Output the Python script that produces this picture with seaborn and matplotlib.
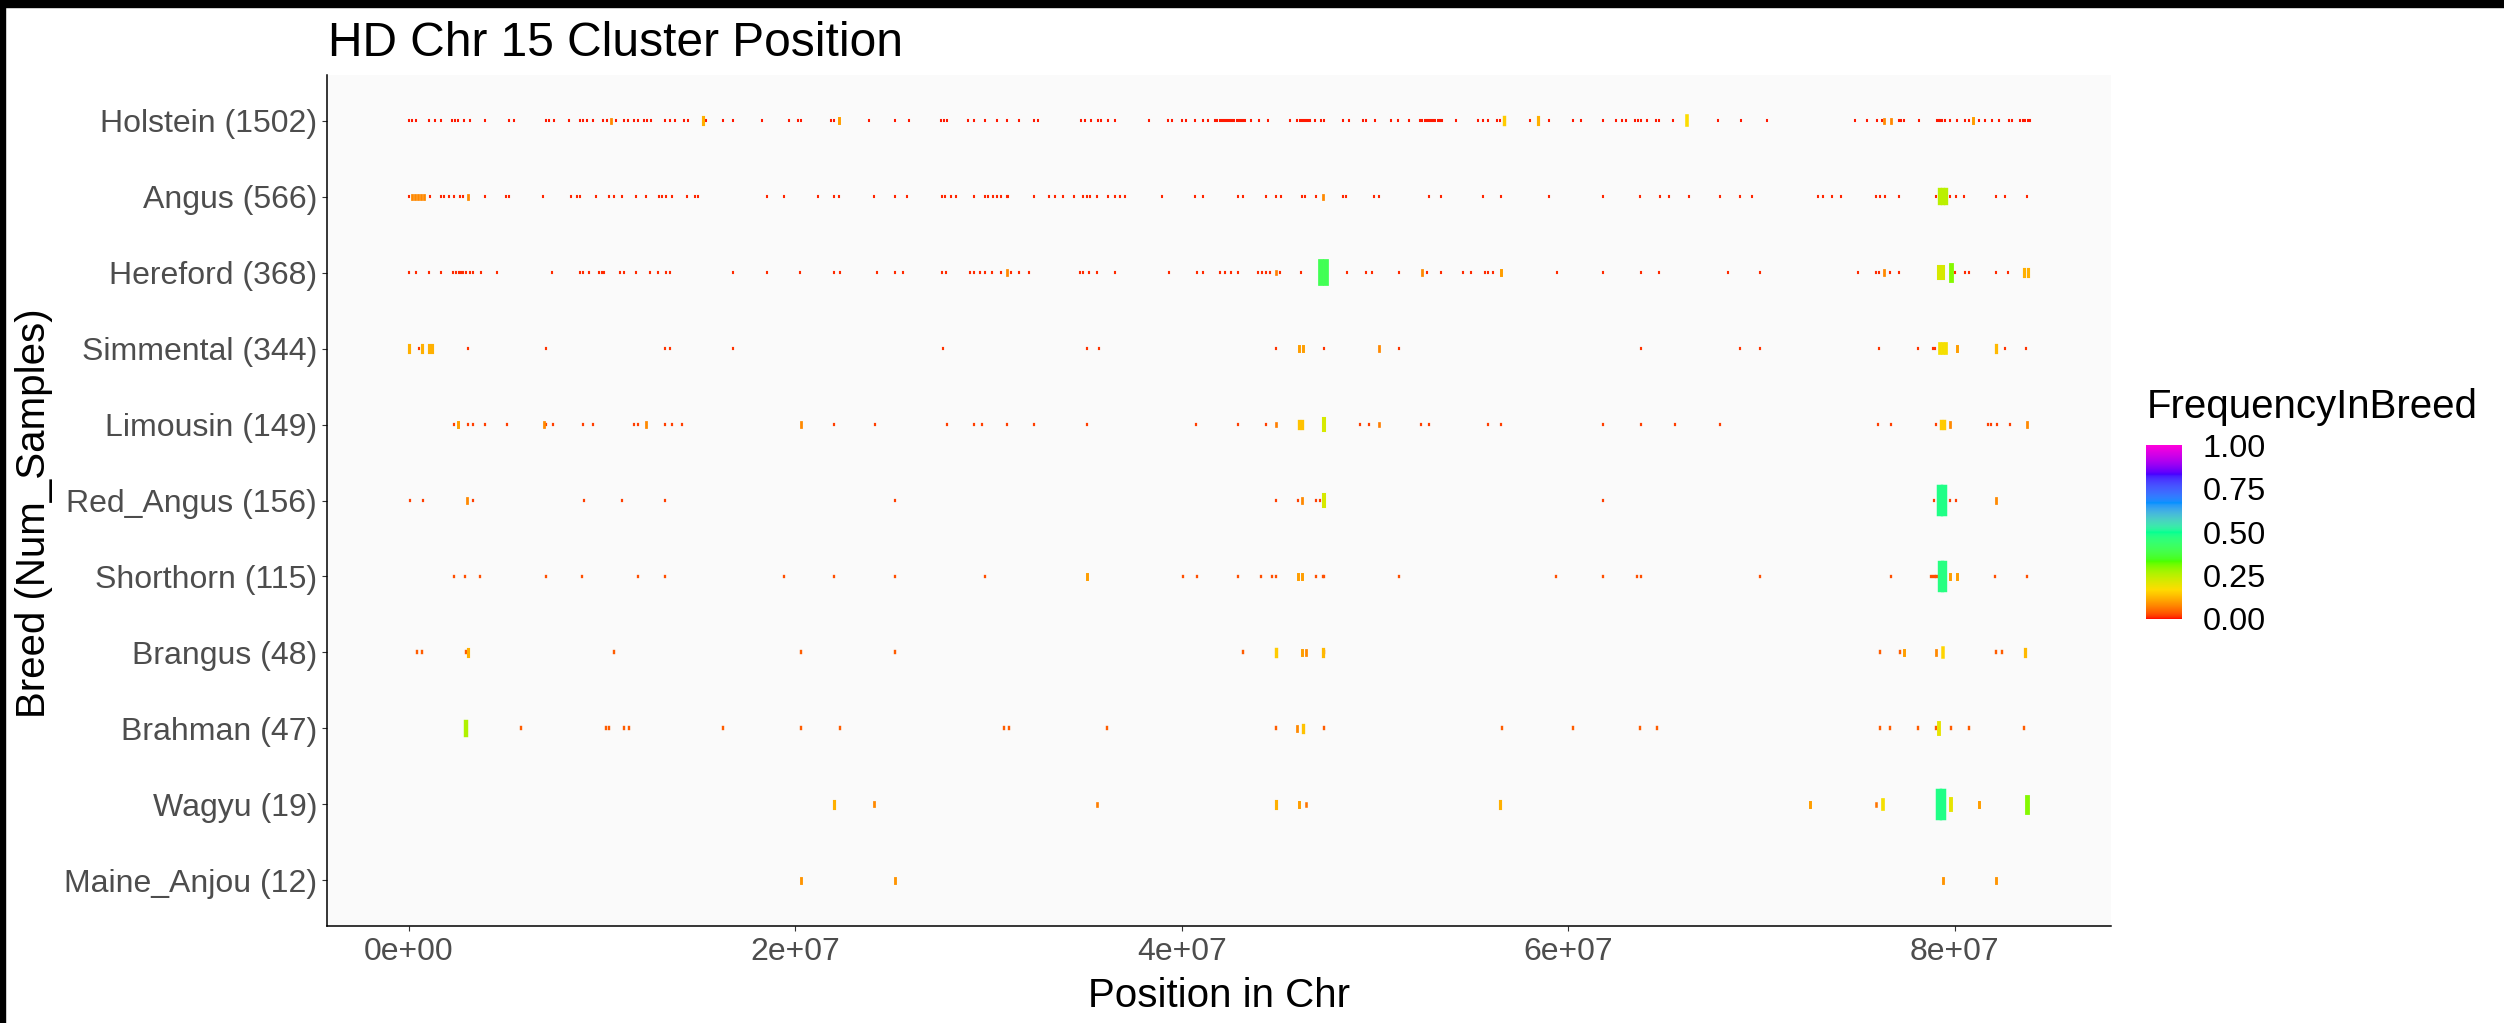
import numpy as np
import pandas as pd
import matplotlib
matplotlib.use("Agg")
import matplotlib.pyplot as plt
from matplotlib.colors import ListedColormap, Normalize, to_rgb
from matplotlib.cm import ScalarMappable
from matplotlib.patches import Rectangle
import seaborn as sns

# ---------------- data ----------------
title = "HD Chr 15 Cluster Position"
x_title = "Position in Chr"
y_title = "Breed (Num_Samples)"
legend_title = "FrequencyInBreed"

breeds = ["Holstein (1502)", "Angus (566)", "Hereford (368)", "Simmental (344)",
          "Limousin (149)", "Red_Angus (156)", "Shorthorn (115)", "Brangus (48)",
          "Brahman (47)", "Wagyu (19)", "Maine_Anjou (12)"]

# frequency of the many small (rare) clusters in each breed
base_freq = [0.005, 0.008, 0.01, 0.015, 0.02, 0.02, 0.03, 0.04, 0.04, 0.06, 0.09]

# positions in Mb
holstein_low = [0.02, 0.20, 0.38, 1.06, 1.38, 1.70, 2.24, 2.39, 2.56, 2.88, 3.16, 3.95, 5.18, 5.47, 7.11, 7.28,
                7.54, 8.32, 8.89, 9.04, 9.21, 9.54, 10.07, 10.28, 10.71, 11.15, 11.35, 11.68, 11.89, 12.17, 12.35,
                12.54, 13.28, 13.54, 13.78, 14.27, 14.44, 15.39, 16.29, 16.78, 18.29, 19.66, 20.16, 20.32, 21.86,
                22.01, 23.80, 25.15, 25.88, 27.55, 27.70, 27.87, 28.95, 29.26, 29.80, 30.45, 30.98, 31.58, 32.37,
                32.55, 34.80, 35.01, 35.33, 35.65, 35.80, 36.19, 36.57, 38.33, 39.30, 39.51, 40.01, 40.22, 40.70,
                41.09, 41.34, 41.72, 41.85, 41.98, 42.10, 42.20, 42.30, 42.41, 42.52, 42.62, 42.73, 42.84, 42.95,
                43.05, 43.16, 43.27, 43.59, 44.01, 44.45, 45.62, 45.99, 46.10, 46.20, 46.31, 46.42, 46.52, 46.63,
                46.91, 47.23, 47.38, 48.36, 48.67, 49.38, 49.56, 49.98, 50.82, 51.21, 51.74, 52.34, 52.45, 52.60,
                52.71, 52.82, 52.92, 53.02, 53.13, 53.24, 53.35, 53.46, 54.20, 55.35, 55.61, 55.85, 56.31, 56.48,
                58.00, 58.99, 60.25, 60.68, 61.82, 62.47, 62.79, 63.01, 63.47, 63.60, 63.75, 64.08, 64.55, 64.71,
                65.42, 67.75, 68.92, 70.26, 74.84, 75.45, 75.97, 76.23, 77.09, 77.22, 77.35, 78.17, 79.08, 79.18,
                79.25, 79.35, 79.51, 79.76, 80.11, 80.54, 80.72, 81.23, 81.54, 81.91, 82.26, 82.78, 82.95, 83.39,
                83.52, 83.65, 83.78, 83.90]
holstein_hi_pos = [10.45, 15.24, 22.25, 56.65, 58.41, 66.16, 76.35, 76.70, 80.94]
holstein_hi_freq = [0.08, 0.12, 0.10, 0.15, 0.12, 0.17, 0.08, 0.08, 0.10]

angus_low = [0.00, 1.10, 1.66, 1.81, 2.09, 2.34, 2.67, 2.82, 3.95, 5.03, 5.18, 6.98, 8.39, 8.74, 8.89, 9.71, 10.39,
             10.61, 11.06, 11.78, 12.26, 12.96, 13.11, 13.33, 13.65, 14.42, 14.83, 15.00, 18.55, 19.44, 21.20,
             22.01, 22.25, 24.10, 25.15, 25.79, 27.62, 27.76, 28.04, 28.30, 29.26, 29.80, 29.97, 30.23, 30.45,
             30.67, 30.94, 31.02, 32.37, 33.13, 33.44, 33.87, 34.43, 34.91, 35.11, 35.26, 35.61, 36.19, 36.57,
             36.83, 37.09, 38.98, 40.70, 41.12, 42.89, 43.16, 44.38, 44.88, 45.12, 46.23, 46.40, 46.97, 48.33,
             48.49, 49.96, 50.19, 52.78, 53.41, 55.61, 56.52, 58.99, 61.82, 63.73, 64.76, 65.19, 66.24, 67.84,
             68.88, 69.52, 72.93, 73.16, 73.66, 74.09, 75.92, 76.13, 76.39, 77.12, 79.02, 79.76, 80.07, 80.49,
             82.15, 82.57, 83.73]
angus_hi_pos = [0.20, 0.35, 0.50, 0.65, 0.80, 3.05, 47.30, 79.25, 79.40, 79.52]
angus_hi_freq = [0.08, 0.08, 0.08, 0.08, 0.08, 0.08, 0.08, 0.25, 0.25, 0.25]

hereford_low = [0.02, 0.38, 1.06, 1.70, 2.31, 2.45, 2.59, 2.73, 2.84, 2.95, 3.16, 3.31, 3.75, 4.60, 7.43, 8.89,
                9.04, 9.36, 9.85, 10.00, 10.11, 10.93, 11.15, 11.78, 12.47, 12.92, 13.33, 13.54, 16.76, 18.55,
                20.25, 22.01, 22.34, 24.23, 25.15, 25.58, 27.62, 27.83, 29.06, 29.26, 29.54, 29.80, 30.19, 30.67,
                31.19, 31.58, 32.10, 34.73, 34.91, 35.22, 35.61, 36.57, 39.34, 40.81, 41.09, 41.98, 42.24, 42.57,
                42.89, 43.97, 44.17, 44.38, 44.55, 45.08, 46.16, 48.53, 49.56, 49.82, 51.25, 52.67, 53.41, 54.53,
                54.96, 55.67, 55.83, 56.09, 59.40, 61.82, 63.75, 64.71, 68.24, 69.93, 75.01, 75.92, 76.09, 76.66,
                77.12, 80.02, 80.51, 80.75, 82.11, 82.76]
hereford_hi_pos = [30.94, 44.88, 47.23, 47.45, 52.45, 56.52, 76.34, 79.20, 79.40, 79.78, 83.59, 83.80]
hereford_hi_freq = [0.08, 0.07, 0.40, 0.40, 0.08, 0.10, 0.08, 0.22, 0.22, 0.30, 0.12, 0.12]

simmental_low = [0.53, 3.10, 7.11, 13.28, 13.54, 16.76, 27.66, 35.11, 35.72, 44.88, 47.34, 51.25, 63.75, 68.88,
                 69.93, 76.07, 78.07, 78.89, 79.00, 82.57, 83.68]
simmental_hi_pos = [0.03, 0.68, 1.06, 1.20, 46.06, 46.27, 50.19, 79.22, 79.39, 79.55, 80.09, 82.15]
simmental_hi_freq = [0.12, 0.12, 0.12, 0.12, 0.10, 0.10, 0.08, 0.18, 0.18, 0.18, 0.10, 0.13]

limousin_low = [2.34, 3.10, 3.31, 3.95, 5.10, 7.11, 7.49, 9.00, 9.54, 11.68, 11.85, 13.28, 13.61, 14.15, 22.01,
                24.12, 27.87, 29.26, 29.69, 30.94, 32.37, 35.11, 40.76, 42.89, 44.38, 49.23, 49.71, 52.39, 52.78,
                55.85, 56.52, 61.82, 63.75, 65.51, 67.84, 76.04, 76.71, 79.02, 81.70, 81.87, 82.18, 82.83]
limousin_hi_pos = [2.56, 7.02, 12.26, 20.30, 44.88, 46.06, 46.23, 47.34, 50.19, 79.28, 79.46, 79.76, 83.73]
limousin_hi_freq = [0.10, 0.08, 0.08, 0.08, 0.07, 0.14, 0.14, 0.22, 0.07, 0.15, 0.15, 0.08, 0.08]

red_angus_low = [0.10, 0.74, 3.31, 9.10, 11.06, 13.28, 25.15, 44.88, 46.01, 46.97, 47.13, 61.82, 78.90, 79.76,
                 80.07]
red_angus_hi_pos = [3.03, 46.23, 47.34, 79.25, 79.42, 82.11]
red_angus_hi_freq = [0.08, 0.08, 0.22, 0.48, 0.48, 0.08]

shorthorn_low = [2.34, 2.92, 3.72, 7.11, 8.95, 11.85, 13.28, 19.44, 22.01, 25.15, 29.82, 40.05, 40.78, 42.89,
                 44.08, 44.66, 44.88, 46.97, 47.30, 47.38, 51.25, 59.38, 61.82, 63.58, 63.75, 69.93, 76.71, 78.78,
                 78.87, 78.96, 79.05, 79.14, 82.08, 83.73]
shorthorn_hi_pos = [35.11, 46.01, 46.25, 79.30, 79.45, 79.76, 80.09]
shorthorn_hi_freq = [0.10, 0.10, 0.10, 0.47, 0.47, 0.10, 0.10]

brangus_low = [0.46, 0.68, 2.99, 10.65, 20.32, 25.15, 43.18, 47.38, 76.14, 77.18, 82.11, 82.43]
brangus_hi_pos = [3.05, 44.88, 46.21, 46.42, 47.30, 77.36, 79.04, 79.37, 83.64]
brangus_hi_freq = [0.12, 0.15, 0.10, 0.08, 0.13, 0.10, 0.08, 0.16, 0.13]

brahman_low = [5.80, 10.22, 10.39, 11.15, 11.42, 16.29, 20.32, 22.34, 30.83, 31.04, 36.11, 44.90, 47.34, 56.57,
               60.25, 63.73, 64.61, 76.14, 76.64, 78.09, 79.04, 79.78, 80.75, 83.56]
brahman_hi_pos = [2.99, 45.99, 46.27, 79.18]
brahman_hi_freq = [0.26, 0.08, 0.14, 0.20]

wagyu_low = [46.42, 75.90]
wagyu_hi_pos = [22.01, 24.10, 35.61, 44.88, 46.06, 56.48, 72.52, 76.30, 79.19, 79.39, 79.78, 81.23, 83.73]
wagyu_hi_freq = [0.12, 0.08, 0.07, 0.12, 0.10, 0.12, 0.10, 0.18, 0.48, 0.48, 0.20, 0.10, 0.30]

maine_anjou_low = [20.32, 25.15, 79.41, 82.11]
maine_anjou_hi_pos = []
maine_anjou_hi_freq = []

low_lists = [holstein_low, angus_low, hereford_low, simmental_low, limousin_low, red_angus_low,
             shorthorn_low, brangus_low, brahman_low, wagyu_low, maine_anjou_low]
hi_pos_lists = [holstein_hi_pos, angus_hi_pos, hereford_hi_pos, simmental_hi_pos, limousin_hi_pos,
                red_angus_hi_pos, shorthorn_hi_pos, brangus_hi_pos, brahman_hi_pos, wagyu_hi_pos,
                maine_anjou_hi_pos]
hi_freq_lists = [holstein_hi_freq, angus_hi_freq, hereford_hi_freq, simmental_hi_freq, limousin_hi_freq,
                 red_angus_hi_freq, shorthorn_hi_freq, brangus_hi_freq, brahman_hi_freq, wagyu_hi_freq,
                 maine_anjou_hi_freq]

x_tick_values = [0, 2e7, 4e7, 6e7, 8e7]
x_tick_labels = ["0e+00", "2e+07", "4e+07", "6e+07", "8e+07"]
cbar_ticks = [0.0, 0.25, 0.5, 0.75, 1.0]
cbar_labels = ["0.00", "0.25", "0.50", "0.75", "1.00"]

# R rainbow(7) colours used by the gradient
rainbow7 = ["#FF0000", "#FFDB00", "#49FF00", "#00FF92", "#0092FF", "#4900FF", "#FF00DB"]


# ---------------- Lab-interpolated gradient (as ggplot's gradientn) ----------------
_WHITE = np.array([0.95047, 1.0, 1.08883])
_M = np.array([[0.4124564, 0.3575761, 0.1804375],
               [0.2126729, 0.7151522, 0.0721750],
               [0.0193339, 0.1191920, 0.9503041]])


def srgb_to_lab(rgb):
    rgb = np.asarray(rgb, dtype=float)
    lin = np.where(rgb <= 0.04045, rgb / 12.92, ((rgb + 0.055) / 1.055) ** 2.4)
    xyz = lin @ _M.T / _WHITE
    f = np.where(xyz > 0.008856, np.cbrt(xyz), 7.787 * xyz + 16 / 116)
    L = 116 * f[..., 1] - 16
    a = 500 * (f[..., 0] - f[..., 1])
    b = 200 * (f[..., 1] - f[..., 2])
    return np.stack([L, a, b], axis=-1)


def lab_to_srgb(lab):
    L, a, b = lab[..., 0], lab[..., 1], lab[..., 2]
    fy = (L + 16) / 116
    fx = fy + a / 500
    fz = fy - b / 200
    f = np.stack([fx, fy, fz], axis=-1)
    xyz = np.where(f ** 3 > 0.008856, f ** 3, (f - 16 / 116) / 7.787) * _WHITE
    lin = xyz @ np.linalg.inv(_M).T
    lin = np.clip(lin, 0, 1)
    rgb = np.where(lin <= 0.0031308, 12.92 * lin, 1.055 * lin ** (1 / 2.4) - 0.055)
    return np.clip(rgb, 0, 1)


anchors = srgb_to_lab(np.array([to_rgb(c) for c in rainbow7]))
t = np.linspace(0, 1, 512)
anchor_t = np.linspace(0, 1, len(rainbow7))
lab_grid = np.stack([np.interp(t, anchor_t, anchors[:, k]) for k in range(3)], axis=-1)
cmap = ListedColormap(lab_to_srgb(lab_grid), name="rainbow7_lab")
norm = Normalize(0, 1)

# ---------------- build long table: each cluster = vertical segment ----------------
rows = []
uid = 0
for i, breed in enumerate(breeds):
    entries = [(p, base_freq[i]) for p in low_lists[i]] + list(zip(hi_pos_lists[i], hi_freq_lists[i]))
    for p, f in entries:
        half = 0.34 * f
        rows.append(dict(pos=p * 1e6, y=i - half, freq=f, unit=uid, breed=breed))
        rows.append(dict(pos=p * 1e6, y=i + half, freq=f, unit=uid, breed=breed))
        uid += 1
df = pd.DataFrame(rows)

# ---------------- figure ----------------
W, H = 2504, 1023
sns.set_theme(style="white")
plt.rcParams["font.family"] = ["Liberation Sans", "DejaVu Sans"]

fig = plt.figure(figsize=(W / 100, H / 100), dpi=100, facecolor="white")
ax = fig.add_axes([327 / W, 1 - 926 / H, (2111 - 327) / W, (926 - 75) / H])
ax.set_facecolor("#FAFAFA")

sns.lineplot(data=df, x="pos", y="y", units="unit", estimator=None, sort=False,
             hue="freq", palette=cmap, hue_norm=norm,
             size="freq", sizes=(1.45, 4.8), size_norm=(0, 0.5),
             legend=False, ax=ax, solid_capstyle="projecting", errorbar=None)

ax.set_xlim(-4.22e6, 88.08e6)
ax.set_ylim(len(breeds) - 1 + 0.6, -0.6)
ax.set_yticks(range(len(breeds)))
ax.set_yticklabels(breeds)
ax.set_xticks(x_tick_values)
ax.set_xticklabels(x_tick_labels)
ax.grid(False)

for side in ["top", "right"]:
    ax.spines[side].set_visible(False)
for side in ["left", "bottom"]:
    ax.spines[side].set_visible(True)
    ax.spines[side].set_color("black")
    ax.spines[side].set_linewidth(1.1)

ax.tick_params(axis="both", which="major", length=3.6, width=0.8, color="#333333",
               labelcolor="#4D4D4D", labelsize=23, bottom=True, left=True, direction="out")
ax.tick_params(axis="y", pad=3.5)
ax.tick_params(axis="x", pad=4)

ax.set_xlabel(x_title, fontsize=29, color="black")
ax.set_ylabel(y_title, fontsize=29, color="black")
ax.xaxis.set_label_coords(0.5, (926 - 977) / 851)
ax.yaxis.set_label_coords((53 - 327) / 1784, 0.485)

fig.text(328 / W, 1 - 56 / H, title, fontsize=34.5, ha="left", va="baseline", color="black")

# ---------------- colour bar legend ----------------
fig.text(2147 / W, 1 - 418 / H, legend_title, fontsize=29, ha="left", va="baseline", color="black")
cax = fig.add_axes([2146 / W, 1 - 619 / H, 36 / W, 174 / H])
cb = fig.colorbar(ScalarMappable(norm=norm, cmap=cmap), cax=cax, ticks=cbar_ticks)
cb.outline.set_visible(False)
cb.ax.set_yticklabels(cbar_labels)
cb.ax.tick_params(axis="y", which="major", direction="in", length=5, width=1.0, color="white",
                  left=True, right=True, labelsize=23.4, labelcolor="black", pad=15)
cb.ax.minorticks_off()

# black border strips of the original screenshot
fig.add_artist(Rectangle((0, 1 - 7 / H), 1, 7 / H, transform=fig.transFigure, color="black", zorder=20))
fig.add_artist(Rectangle((0, 0), 5 / W, 1, transform=fig.transFigure, color="black", zorder=20))

fig.savefig("out.png", dpi=100, facecolor="white")
